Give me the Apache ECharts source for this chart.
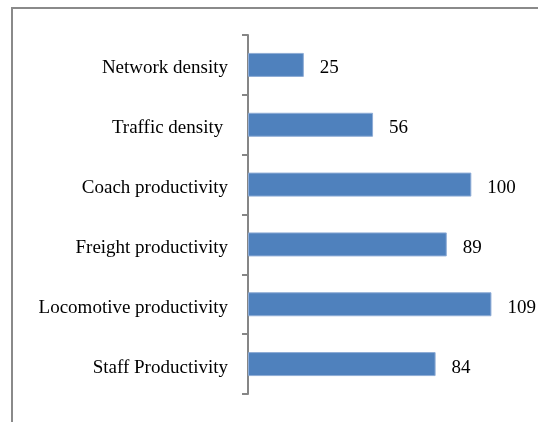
<!DOCTYPE html>
<html>
<head>
<meta charset="utf-8">
<script src="https://cdn.jsdelivr.net/npm/echarts@6/dist/echarts.min.js"></script>
<style>
  html, body { margin: 0; padding: 0; background: #fff; }
  #chart { width: 538px; height: 422px; }
</style>
</head>
<body>
<div id="chart"></div>
<script>
// categories listed bottom to top (category axis starts at the bottom)
const categories = ['Staff Productivity', 'Locomotive productivity', 'Freight productivity',
  'Coach productivity', 'Traffic density ', 'Network density'];
const values = [84, 109, 89, 100, 56, 25];

const chart = echarts.init(document.getElementById('chart'));

const labelRich = {
  t: { fontSize: 19, fontFamily: 'Liberation Serif', color: '#000', padding: [7, 0, 0, 0] }
};

chart.setOption({
  animation: false,
  textStyle: { fontFamily: 'Liberation Serif' },
  graphic: [{
    type: 'rect',
    shape: { x: 12, y: 8, width: 600, height: 500 },
    style: { fill: 'none', stroke: '#8a8a8a', lineWidth: 2 },
    silent: true
  }],
  grid: { left: 248, top: 35, width: 268, height: 359 },
  xAxis: {
    type: 'value',
    min: 0,
    max: 120,
    show: false
  },
  yAxis: {
    type: 'category',
    data: categories,
    axisLine: { lineStyle: { color: '#868686', width: 2 } },
    axisTick: { show: true, length: 6, lineStyle: { color: '#868686', width: 2 } },
    axisLabel: {
      color: '#000', fontSize: 19, margin: 20, fontFamily: 'Liberation Serif',
      formatter: v => '{t|' + v + '}',
      rich: labelRich
    }
  },
  series: [{
    type: 'bar',
    data: values,
    barWidth: 24,
    itemStyle: { color: '#4f81bd', borderColor: '#8eacd6', borderWidth: 1 },
    label: {
      show: true,
      position: 'right',
      distance: 16,
      color: '#000',
      fontSize: 19,
      fontFamily: 'Liberation Serif',
      formatter: p => '{t|' + p.value + '}',
      rich: labelRich
    }
  }]
});
</script>
</body>
</html>
